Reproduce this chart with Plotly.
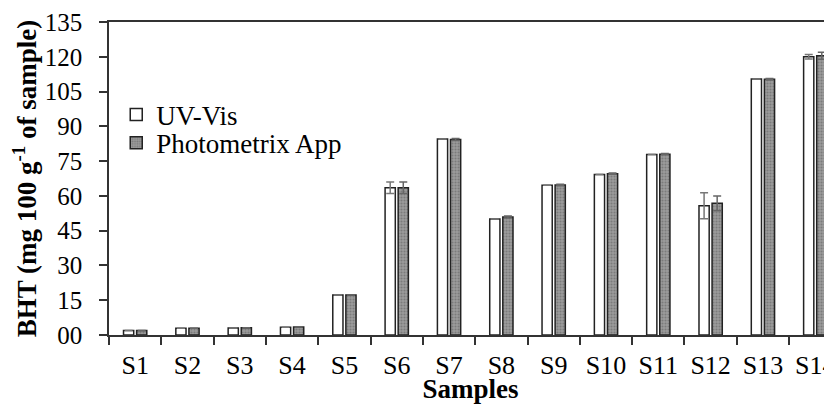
import plotly.graph_objects as go

samples = ["S1", "S2", "S3", "S4", "S5", "S6", "S7", "S8", "S9", "S10", "S11", "S12", "S13", "S14"]
uv_vis = [1.9, 2.9, 3.0, 3.3, 17.2, 63.5, 84.5, 50.0, 64.6, 69.2, 77.9, 55.7, 110.4, 120.0]
uv_vis_err = [0, 0, 0, 0, 0, 2.5, 0, 0, 0, 0, 0, 5.6, 0, 1.0]
photometrix = [1.9, 2.9, 3.1, 3.4, 17.2, 63.5, 84.3, 50.9, 64.7, 69.6, 78.0, 56.8, 110.3, 120.4]
photometrix_err = [0, 0, 0, 0, 0, 2.5, 0.4, 0.4, 0.3, 0.3, 0.3, 3.2, 0.3, 1.5]
y_ticks = [0, 15, 30, 45, 60, 75, 90, 105, 120, 135]
y_ticktext = ["00", "15", "30", "45", "60", "75", "90", "105", "120", "135"]

FONT = "Liberation Serif"

fig = go.Figure()
fig.add_trace(go.Bar(
    x=samples, y=uv_vis, name="UV-Vis", legend="legend",
    marker=dict(color="white", line=dict(color="#222222", width=1.5)),
    error_y=dict(type="data", array=uv_vis_err, color="#777777", thickness=1.5, width=4),
))
fig.add_trace(go.Bar(
    x=samples, y=photometrix, name="Photometrix App", legend="legend2",
    marker=dict(color="#8c8c8c", line=dict(color="#222222", width=1.5),
                pattern=dict(shape=".", fgcolor="#5a5a5a", bgcolor="#9c9c9c",
                             size=3, solidity=0.4)),
    error_y=dict(type="data", array=photometrix_err, color="#666666", thickness=1.5, width=4),
))

legend_common = dict(xanchor="left", yanchor="middle",
                     font=dict(family=FONT, size=27, color="black"),
                     bgcolor="rgba(0,0,0,0)", itemwidth=30, borderwidth=0)

# page has an 8px body margin, so the figure is sized 824x396 and offset accordingly
fig.update_layout(
    width=824, height=396,
    margin=dict(l=101, r=0, t=14, b=69),
    paper_bgcolor="white", plot_bgcolor="white",
    barmode="group", bargap=0.5, bargroupgap=0.22,
    font=dict(family=FONT, size=25, color="black"),
    showlegend=True,
    legend=dict(x=0.01, y=0.703, **legend_common),
    legend2=dict(x=0.01, y=0.613, **legend_common),
    xaxis=dict(
        type="category", range=[-0.5, 13.32], automargin=False,
        showline=True, linecolor="#333333", linewidth=1.5, mirror=True,
        ticks="outside", tickson="boundaries", ticklen=8, tickcolor="#333333", tickwidth=1.5,
        showgrid=False, zeroline=False, ticklabelstandoff=6,
        tickfont=dict(family=FONT, size=26),
        title=dict(text="<b>Samples</b>", font=dict(family=FONT, size=27)),
    ),
    yaxis=dict(
        range=[0, 135], automargin="left",
        tickmode="array", tickvals=y_ticks, ticktext=y_ticktext,
        showline=True, linecolor="#333333", linewidth=1.5,
        ticks="outside", ticklen=8, tickcolor="#333333", tickwidth=1.5,
        showgrid=False, zeroline=False, ticklabelstandoff=12,
        tickfont=dict(family=FONT, size=25),
        title=dict(text="<b>BHT (mg 100 g<sup>-1</sup> of sample)</b>", font=dict(family=FONT, size=27), standoff=4),
    ),
)

fig.write_html("out.html")
